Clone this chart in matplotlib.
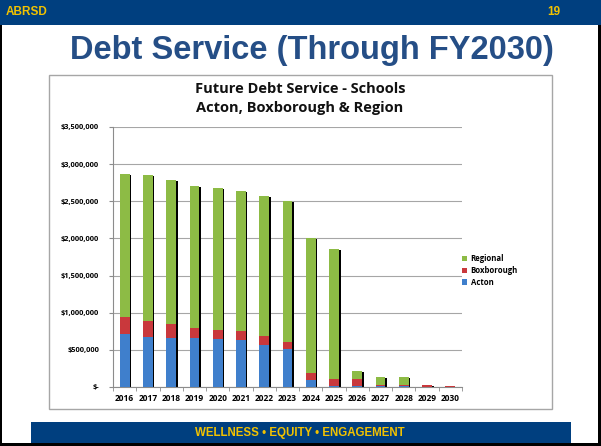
import matplotlib.pyplot as plt
import matplotlib.patches as patches
import numpy as np

# data (dollars)
years = ["2016", "2017", "2018", "2019", "2020", "2021", "2022", "2023",
         "2024", "2025", "2026", "2027", "2028", "2029", "2030"]
acton = [714000, 678000, 665000, 656000, 642000, 629000, 570000, 508000,
         90000, 10000, 15000, 13000, 13000, 3000, 2000]
boxborough = [225000, 216000, 189000, 139000, 131000, 121000, 113000, 103000,
              94000, 93000, 88000, 18000, 18000, 20000, 10000]
regional = [1927000, 1963000, 1936000, 1905000, 1900000, 1891000, 1887000, 1891000,
            1820000, 1748000, 107000, 107000, 107000, 0, 0]
ytick_vals = [0, 500000, 1000000, 1500000, 2000000, 2500000, 3000000, 3500000]
ytick_labels = ["$-", "$500,000", "$1,000,000", "$1,500,000", "$2,000,000",
                "$2,500,000", "$3,000,000", "$3,500,000"]

NAVY = "#003F7F"
GOLD = "#F2C200"

W, H = 601, 446
fig = plt.figure(figsize=(W / 100, H / 100), dpi=100)

def box(x0, y0, x1, y1, **kw):
    # rectangle in pixel coords (y measured from the top)
    fig.patches.append(patches.Rectangle((x0 / W, 1 - y1 / H), (x1 - x0) / W, (y1 - y0) / H,
                                         transform=fig.transFigure, **kw))

# slide frame, header/footer bars, chart frame
box(0, 0, W, H, facecolor="black", edgecolor="none", zorder=0)
box(2, 0, 598, 443, facecolor="white", edgecolor="none", zorder=0)
box(0, 0, W, 25, facecolor=NAVY, edgecolor="none", zorder=1)
box(31, 422, 571, 443, facecolor=NAVY, edgecolor="none", zorder=1)
box(49, 75, 552, 409, facecolor="white", edgecolor="#A6A6A6", linewidth=1, zorder=1)

fig.text(6 / W, 1 - 12 / H, "ABRSD", color=GOLD, fontsize=8.5, fontweight="bold",
         family="Liberation Sans", va="center", ha="left")
fig.text(560 / W, 1 - 12 / H, "19", color=GOLD, fontsize=8.5, fontweight="bold",
         family="Liberation Sans", va="center", ha="right")
fig.text(312 / W, 1 - 50 / H, "Debt Service (Through FY2030)", color="#254E86",
         fontsize=23.5, fontweight="bold", family="Liberation Sans", va="center", ha="center")
fig.text(300 / W, 1 - 433 / H, "WELLNESS \u2022 EQUITY \u2022 ENGAGEMENT", color=GOLD,
         fontsize=8.3, fontweight="bold", family="Liberation Sans", va="center", ha="center")
fig.text(300 / W, 1 - 89 / H, "Future Debt Service - Schools", fontsize=10.5,
         fontweight="bold", family="Open Sans", va="center", ha="center", color="#111111")
fig.text(300 / W, 1 - 108 / H, "Acton, Boxborough & Region", fontsize=10.5,
         fontweight="bold", family="Open Sans", va="center", ha="center", color="#111111")

ax = fig.add_axes([113 / W, 1 - 387 / H, 349 / W, 260 / H], zorder=2)
ax.set_facecolor("none")

x = np.arange(len(years))
a = np.array(acton)
b = np.array(boxborough)
r = np.array(regional)
total = a + b + r
bw = 0.42

# drop shadow behind each stack
ax.bar(x + 0.07, np.maximum(total - 12000, 0), bw, color="black", zorder=2)
h1 = ax.bar(x, a, bw, color="#3F7FCC", zorder=3, label="Acton")
h2 = ax.bar(x, b, bw, bottom=a, color="#C9383C", zorder=3, label="Boxborough")
h3 = ax.bar(x, r, bw, bottom=a + b, color="#8DBB45", zorder=3, label="Regional")

ax.set_xlim(-0.5, len(years) - 0.5)
ax.set_ylim(0, 3500000)
ax.set_yticks(ytick_vals)
ax.set_yticklabels(ytick_labels)
ax.set_xticks(x)
ax.set_xticklabels(years)
ax.set_xticks(np.arange(-0.5, len(years), 1), minor=True)
ax.tick_params(axis="x", which="major", length=0, pad=5)
ax.tick_params(axis="x", which="minor", length=3, color="#8C8C8C")
ax.tick_params(axis="y", length=3, color="#8C8C8C", pad=7)
for lab in ax.get_yticklabels():
    lab.set_fontfamily("Open Sans")
    lab.set_fontweight("bold")
    lab.set_fontsize(5.3)
for lab in ax.get_xticklabels():
    lab.set_fontfamily("Open Sans")
    lab.set_fontweight("bold")
    lab.set_fontsize(6)

ax.yaxis.grid(True, color="#A6A6A6", linewidth=0.8, zorder=0)
ax.set_axisbelow(True)
for s in ["top", "right"]:
    ax.spines[s].set_visible(False)
for s in ["left", "bottom"]:
    ax.spines[s].set_color("#8C8C8C")
    ax.spines[s].set_linewidth(0.8)

leg = ax.legend(handles=[h3, h2, h1], loc="upper left", bbox_to_anchor=(1.0, 0.51),
                frameon=False, handlelength=0.7, handleheight=0.7, handletextpad=0.4,
                labelspacing=0.35, borderpad=0, borderaxespad=0,
                prop={"family": "Open Sans", "weight": "bold", "size": 5.6})

fig.savefig("out.png", dpi=100)
